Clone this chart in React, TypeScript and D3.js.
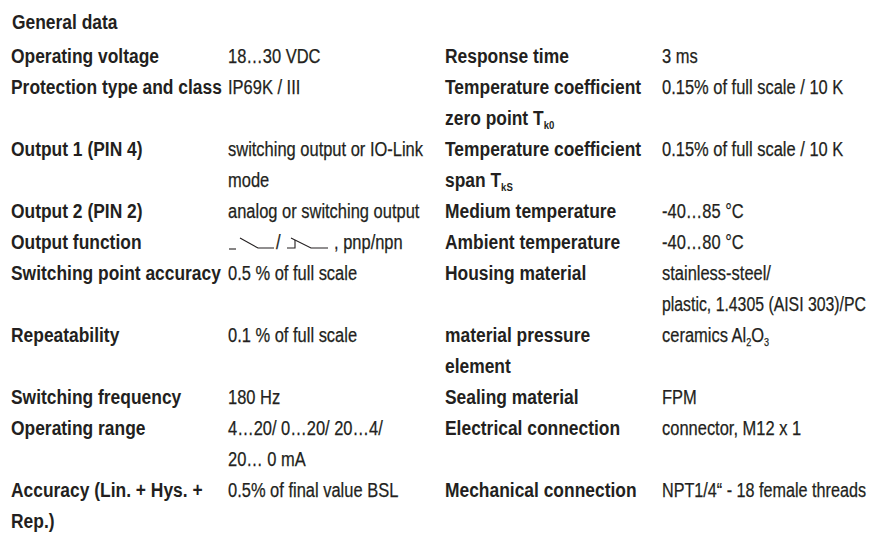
import { useEffect, useRef } from "react";
import * as d3 from "d3";

// table content, one entry per table row: [label lines, value lines, label lines, value lines]
const title = "General data";

const leftLabels: string[][] = [
  ["Operating voltage"],
  ["Protection type and class"],
  ["Output 1 (PIN 4)"],
  ["Output 2 (PIN 2)"],
  ["Output function"],
  ["Switching point accuracy"],
  ["Repeatability"],
  ["Switching frequency"],
  ["Operating range"],
  ["Accuracy (Lin. + Hys. +", "Rep.)"],
];

const leftValues: string[][] = [
  ["18…30 VDC"],
  ["IP69K / III"],
  ["switching output or IO-Link", "mode"],
  ["analog or switching output"],
  ["@switch"],
  ["0.5 % of full scale"],
  ["0.1 % of full scale"],
  ["180 Hz"],
  ["4…20/ 0…20/ 20…4/", "20… 0 mA"],
  ["0.5% of final value BSL"],
];

const rightLabels: string[][] = [
  ["Response time"],
  ["Temperature coefficient", "zero point T_{k0}"],
  ["Temperature coefficient", "span T_{kS}"],
  ["Medium temperature"],
  ["Ambient temperature"],
  ["Housing material"],
  ["material pressure", "element"],
  ["Sealing material"],
  ["Electrical connection"],
  ["Mechanical connection"],
];

const rightValues: string[][] = [
  ["3 ms"],
  ["0.15% of full scale / 10 K"],
  ["0.15% of full scale / 10 K"],
  ["-40…85 °C"],
  ["-40…80 °C"],
  ["stainless-steel/", "plastic, 1.4305 (AISI 303)/PC"],
  ["ceramics Al_{2}O_{3}"],
  ["FPM"],
  ["connector, M12 x 1"],
  ["NPT1/4“ - 18 female threads"],
];

const W = 872;
const H = 556;
const FONT = "'Liberation Sans Narrow', 'Liberation Sans', Arial, sans-serif";
const INK = "#231f20";

export default function App() {
  const ref = useRef<SVGSVGElement>(null);

  useEffect(() => {
    const svg = d3.select(ref.current);
    svg.selectAll("*").remove();

    // row start lines, header is line 0
    const starts: number[] = [];
    let line = 1;
    leftLabels.forEach((_, i) => {
      starts.push(line);
      line += Math.max(leftLabels[i].length, leftValues[i].length, rightLabels[i].length, rightValues[i].length);
    });

    const y = d3.scaleLinear().domain([1, 16]).range([63, 63 + 15 * 31]);
    const cols = [11, 228, 445, 662];
    const colEnd = [222, 439, 656, 866];

    const g = svg.append("g").attr("font-family", FONT).attr("font-size", 20).attr("fill", INK);

    // the original face is a condensed one: squeeze texts to match its widths
    const probe = (s: string, bold: boolean) => {
      const t = g.append("text").attr("font-weight", bold ? "bold" : "normal").text(s);
      const w = (t.node() as SVGTextElement).getComputedTextLength();
      t.remove();
      return w;
    };
    const kBold = 148 / probe("Operating voltage", true);
    const kReg = 195 / probe("switching output or IO-Link", false);

    const squeeze = (t: d3.Selection<SVGTextElement, unknown, null, undefined>, bold: boolean, maxW = 1e4) => {
      const w = (t.node() as SVGTextElement).getComputedTextLength();
      t.attr("textLength", Math.min(maxW, w * (bold ? kBold : kReg))).attr("lengthAdjust", "spacingAndGlyphs");
      if (!bold) t.attr("stroke", INK).attr("stroke-width", 0.25);
    };

    const head = g.append("text").attr("x", 12).attr("y", 29).attr("font-weight", "bold").text(title);
    squeeze(head as any, true);

    const putText = (x: number, yy: number, s: string, bold: boolean, maxW: number) => {
      const t = g.append("text").attr("x", x).attr("y", yy).attr("font-weight", bold ? "bold" : "normal");
      const parts = s.split(/_\{([^}]*)\}/);
      let low = false;
      parts.forEach((p, k) => {
        if (!p) return;
        if (k % 2 === 1) {
          t.append("tspan").attr("font-size", 11).attr("dy", low ? 0 : 4).text(p);
          low = true;
        } else {
          t.append("tspan").attr("dy", low ? -4 : 0).text(p);
          low = false;
        }
      });
      squeeze(t as any, bold, maxW);
    };

    const drawSwitch = (x: number, yy: number) => {
      const ln = d3.line();
      const sym = g.append("g").attr("stroke", INK).attr("stroke-width", 1.1).attr("fill", "none");
      // normally open contact
      sym.append("path").attr("d", ln([[x, yy], [x + 7, yy]]));
      sym.append("path").attr("d", ln([[x + 11, yy - 11], [x + 29, yy - 1], [x + 45, yy - 1]]));
      const sl = g.append("text").attr("x", x + 47).attr("y", yy).text("/");
      squeeze(sl as any, false);
      // normally closed contact
      const x2 = x + 58;
      sym.append("path").attr("d", ln([[x2, yy - 1], [x2 + 8, yy - 1], [x2 + 8, yy - 9]]));
      sym.append("path").attr("d", ln([[x2 + 4, yy - 11], [x2 + 24, yy - 1], [x2 + 41, yy - 1]]));
      const rest = g.append("text").attr("x", x2 + 47).attr("y", yy).text(", pnp/npn");
      squeeze(rest as any, false);
    };

    starts.forEach((s, i) => {
      const cells = [leftLabels[i], leftValues[i], rightLabels[i], rightValues[i]];
      cells.forEach((lines, c) => {
        lines.forEach((txt, k) => {
          if (txt === "@switch") drawSwitch(cols[c] + 1, y(s + k));
          else putText(cols[c], y(s + k), txt, c % 2 === 0, colEnd[c] - cols[c]);
        });
      });
    });
  }, []);

  return (
    <svg ref={ref} width={W} height={H} style={{ position: "absolute", left: 0, top: 0, background: "#fff" }} />
  );
}
